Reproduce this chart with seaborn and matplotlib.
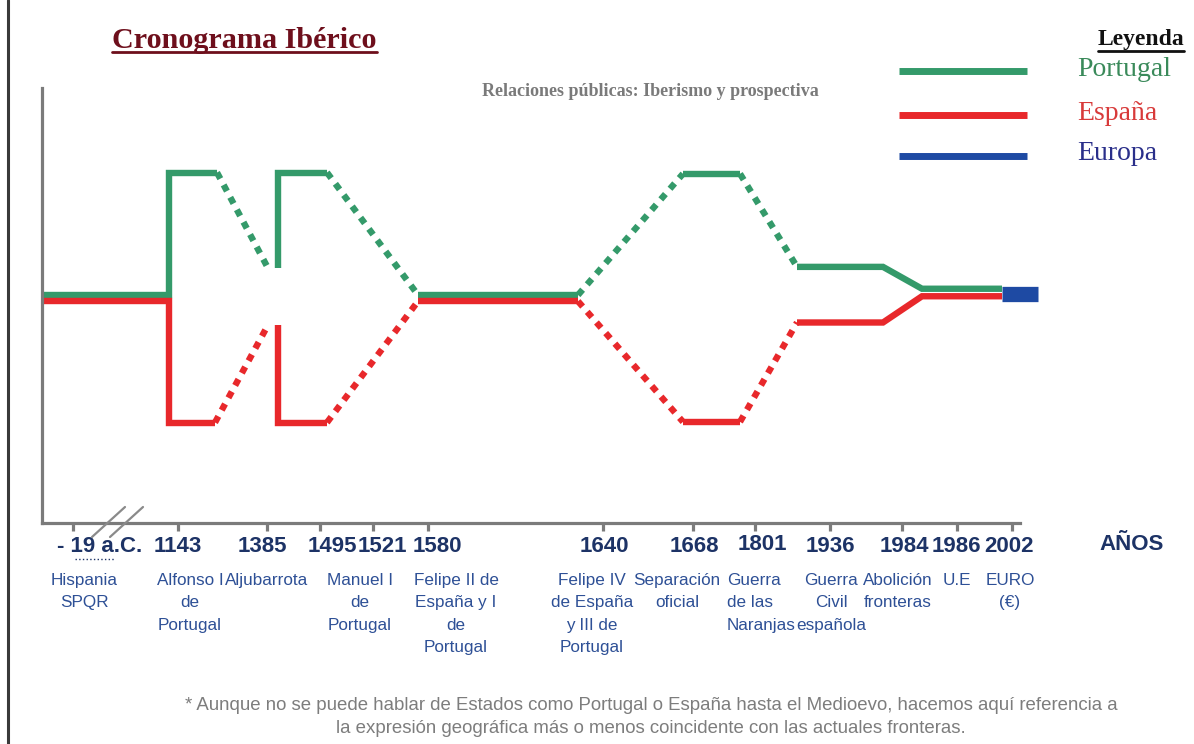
"""Cronograma Ibérico: Portugal y España a lo largo del tiempo."""

import matplotlib

matplotlib.use("Agg")
import matplotlib.pyplot as plt
import matplotlib.transforms as mtransforms
import pandas as pd
import seaborn as sns
from matplotlib.lines import Line2D

W, H = 1194, 744

anios = ["- 19 a.C.", "1143", "1385", "1495", "1521", "1580", "1640",
         "1668", "1801", "1936", "1984", "1986", "2002"]
hitos = ["Hispania\nSPQR", "Alfonso I\nde\nPortugal", "Aljubarrota", "",
         "Manuel I\nde\nPortugal", "Felipe II de\nEspaña y I\nde\nPortugal",
         "Felipe IV\nde España\ny III de\nPortugal", "Separación\noficial",
         "Guerra\nde las\nNaranjas", "Guerra\nCivil\nespañola",
         "Abolición\nfronteras", "U.E", "EURO\n(€)"]
pos_hitos = [3.1, 13.6, 22.5, 27.8, 33.1, 38.6, 56.1, 65.1, 71.3, 78.8, 86.0, 91.5, 97.0]

# trayectorias: 0 = unión, +1 / -1 = máxima separación
portugal_x = [0, 12.7, 12.7, 17.5, 22.6, 23.6, 23.6, 28.5, 37.6, 53.6,
              64.1, 69.8, 75.5, 84.1, 88.0, 96.0]
portugal_y = [0.02, 0.02, 1.0, 1.0, 0.235, 0.235, 1.0, 1.0, 0.02, 0.02,
              0.99, 0.99, 0.245, 0.245, 0.07, 0.07]
portugal_trazo = ["solido", "solido", "solido", "puntos", "ninguno", "solido",
                  "solido", "puntos", "solido", "puntos", "solido", "puntos",
                  "solido", "solido", "solido"]

espana_x = [0, 12.7, 12.7, 17.3, 22.6, 23.6, 23.6, 28.5, 37.6, 53.6,
            64.1, 69.8, 75.5, 84.1, 88.0, 96.0]
espana_y = [-0.03, -0.03, -1.0, -1.0, -0.22, -0.22, -1.0, -1.0, -0.03, -0.03,
            -0.995, -0.995, -0.2, -0.2, 0.01, 0.01]
espana_trazo = portugal_trazo

europa_x = [96.0, 99.6]
europa_y = [0.025, 0.025]

# ajustes de maquetación (píxeles)
desf_anio = [27, 0, -5, 12, 9, 9, 1, 1, 7, 0, 2, -1, -3]
desf_hito = [11, 12, 0, 0, -13, 28, -11, -16, -28, 1, -4, 0, -2]

VERDE = "#349a6a"
ROJO = "#e8282b"
AZUL = "#1e4aa3"
GRIS = "#7b7b7b"
NAVY = "#1d3366"
SERIF = ["Liberation Serif", "DejaVu Serif"]


def fx(x):
    return x / W


def fy(y):
    return 1 - y / H


def tramos(nombre, xs, ys, trazos):
    """Agrupa los segmentos consecutivos con el mismo trazo."""
    filas = []
    tramo = 0
    previo = None
    for i, t in enumerate(trazos):
        if t != previo:
            tramo += 1
            previo = t
            if t != "ninguno":
                filas.append((nombre, f"{nombre}{tramo}", t, xs[i], ys[i]))
        if t != "ninguno":
            filas.append((nombre, f"{nombre}{tramo}", t, xs[i + 1], ys[i + 1]))
    return filas


sns.set_theme(style="white")
plt.rcParams["font.family"] = ["Liberation Sans", "DejaVu Sans"]

fig = plt.figure(figsize=(W / 100, H / 100), dpi=100)
ax = fig.add_axes([fx(42), fy(523), (1020 - 42) / W, (523 - 88) / H])

df = pd.DataFrame(
    tramos("Portugal", portugal_x, portugal_y, portugal_trazo)
    + tramos("España", espana_x, espana_y, espana_trazo),
    columns=["pais", "tramo", "trazo", "x", "y"],
)

sns.lineplot(
    data=df, x="x", y="y", hue="pais", style="trazo", units="tramo",
    estimator=None, sort=False, palette={"Portugal": VERDE, "España": ROJO},
    dashes={"solido": "", "puntos": (1.1, 1.1)}, linewidth=4.6, legend=False,
    ax=ax, solid_joinstyle="miter", solid_capstyle="butt", clip_on=False,
)
sns.lineplot(x=europa_x, y=europa_y, color=AZUL, linewidth=11,
             solid_capstyle="butt", clip_on=False, ax=ax)

ax.set_xlim(0, 97.8)
ax.set_ylim(-1.804, 1.676)
ax.set_xlabel("")
ax.set_ylabel("")
ax.set_yticks([])
ax.set_xticks(pos_hitos)
ax.set_xticklabels([])
ax.tick_params(axis="x", bottom=True, direction="out", length=6, width=2.3, color=GRIS)
for lado in ["top", "right"]:
    ax.spines[lado].set_visible(False)
for lado in ["left", "bottom"]:
    ax.spines[lado].set_color(GRIS)
    ax.spines[lado].set_linewidth(2.3)

trans = mtransforms.blended_transform_factory(ax.transData, ax.transAxes)
for pos, anio, dx in zip(pos_hitos, anios, desf_anio):
    dy = 3 if anio == "1801" else 0
    ax.annotate(anio, xy=(pos, 0), xycoords=trans, xytext=(dx, -24 + dy),
                textcoords="offset pixels", ha="center", va="center",
                fontsize=16, fontweight="bold", color=NAVY)
for pos, hito, dx in zip(pos_hitos, hitos, desf_hito):
    izq = hito.startswith("Guerra\nde")
    ax.annotate(hito, xy=(pos, 0), xycoords=trans, xytext=(dx, -50),
                textcoords="offset pixels", ha="left" if izq else "center",
                va="top", multialignment="left" if izq else "center",
                fontsize=12.3, color="#2e5096", linespacing=1.62)

fig.text(fx(1132), fy(544), "AÑOS", ha="center", va="center", fontsize=16,
         fontweight="bold", color=NAVY)

# marcas de corte del eje
for x0 in (92, 110):
    fig.add_artist(Line2D([fx(x0), fx(x0 + 33)], [fy(537), fy(507)], color="#8a8a8a", lw=1.6))
fig.add_artist(Line2D([fx(75), fx(115)], [fy(559), fy(559)], color=NAVY, lw=1, ls=":"))

# borde izquierdo de la página
fig.add_artist(Line2D([fx(8), fx(8)], [0, 1], color="#3a3a3a", lw=2.2))

titulo = fig.text(fx(112), fy(41), "Cronograma Ibérico", ha="left", va="center",
                  family=SERIF, fontweight="bold", fontsize=21.7, color="#6e0f1c")
fig.text(fx(650), fy(91), "Relaciones públicas: Iberismo y prospectiva", ha="center",
         va="center", family=SERIF, fontweight="bold", fontsize=13, color="#7a7a7a")

leyenda = fig.text(fx(1141), fy(40), "Leyenda", ha="center", va="center",
                   family=SERIF, fontweight="bold", fontsize=17, color="#111111")
for nombre, color, ctexto, y in [("Portugal", VERDE, "#3a8a5a", 71),
                                  ("España", ROJO, "#d83a3a", 115),
                                  ("Europa", AZUL, "#2a2f8a", 156)]:
    fig.add_artist(Line2D([fx(899), fx(1027)], [fy(y), fy(y)], color=color, lw=5,
                          solid_capstyle="butt"))
    fig.text(fx(1077), fy(y - 2), nombre, ha="left", va="center",
             family=SERIF, fontsize=20, color=ctexto)

fig.text(fx(651), fy(717),
         "* Aunque no se puede hablar de Estados como Portugal o España hasta el Medioevo, "
         "hacemos aquí referencia a\nla expresión geográfica más o menos coincidente con "
         "las actuales fronteras.",
         ha="center", va="center", fontsize=13.4, color="#7d7d7d", linespacing=1.5)

# subrayados
fig.canvas.draw()
for texto, y, color in [(titulo, 52, "#6e0f1c"), (leyenda, 51, "#111111")]:
    bb = texto.get_window_extent()
    fig.add_artist(Line2D([bb.x0 / W, bb.x1 / W], [fy(y), fy(y)], color=color, lw=2))

fig.savefig("out.png", dpi=100)
